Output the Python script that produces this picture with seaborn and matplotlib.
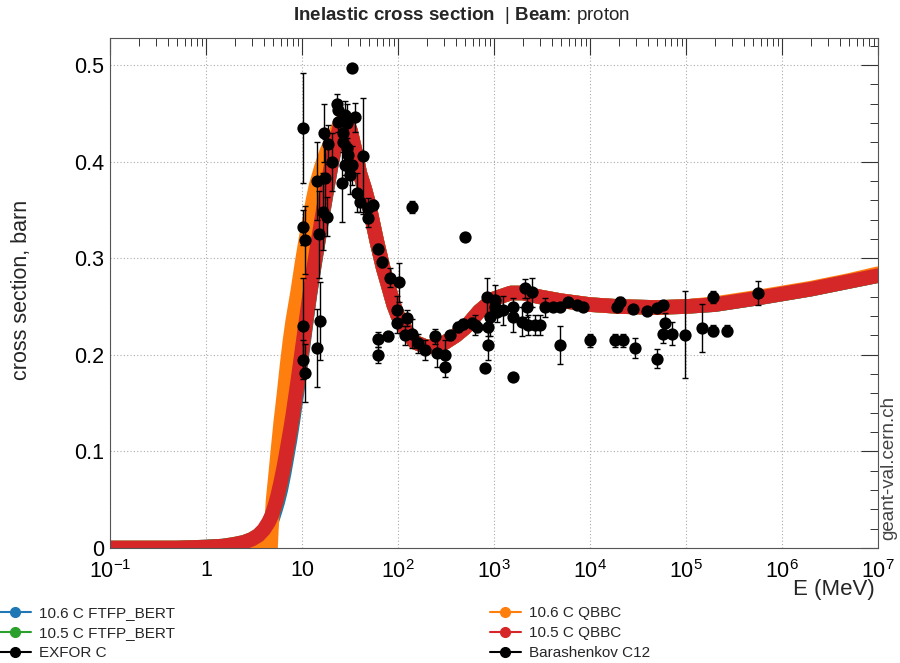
import numpy as np
import pandas as pd
import matplotlib
matplotlib.use("Agg")
import matplotlib.pyplot as plt
from matplotlib.lines import Line2D
from matplotlib.ticker import LogLocator, MultipleLocator, FixedLocator, FixedFormatter, NullFormatter
import seaborn as sns

# ---------------- data ----------------
E_model = [0.1, 0.2, 0.5, 1, 1.5, 2, 2.5, 3, 3.5, 4, 4.5, 4.7, 4.8, 5, 5.3, 5.6, 6, 6.5, 7, 7.5,
           8, 9, 10, 11, 12, 13, 14, 16, 18, 20, 22, 25, 28, 32, 36, 40, 45, 50, 60, 70,
           80, 90, 100, 120, 150, 200, 250, 300, 400, 500, 700, 1000, 1500, 2000, 3000, 5000,
           1e4, 2e4, 5e4, 1e5, 2e5, 5e5, 1e6, 2e6, 5e6, 1e7]

ftfp_106 = [0, 0, 0, 0.001, 0.002, 0.003, 0.005, 0.007, 0.010, 0.015, 0.022, 0.025, 0.027, 0.032, 0.040, 0.048, 0.060, 0.077, 0.095, 0.112,
            0.130, 0.165, 0.200, 0.232, 0.260, 0.283, 0.303, 0.338, 0.368, 0.394, 0.415, 0.437, 0.445, 0.432, 0.410, 0.388, 0.372, 0.355, 0.318, 0.290,
            0.270, 0.252, 0.240, 0.226, 0.213, 0.208, 0.209, 0.212, 0.220, 0.228, 0.245, 0.258, 0.264, 0.264, 0.260, 0.256,
            0.252, 0.250, 0.249, 0.250, 0.252, 0.258, 0.263, 0.268, 0.276, 0.282]

ftfp_105 = [0, 0, 0, 0.001, 0.002, 0.004, 0.006, 0.009, 0.013, 0.018, 0.026, 0.030, 0.032, 0.037, 0.045, 0.054, 0.067, 0.084, 0.102, 0.119,
            0.136, 0.171, 0.204, 0.234, 0.261, 0.284, 0.304, 0.339, 0.369, 0.395, 0.416, 0.438, 0.445, 0.432, 0.410, 0.388, 0.372, 0.355, 0.318, 0.290,
            0.270, 0.252, 0.240, 0.226, 0.213, 0.208, 0.209, 0.212, 0.220, 0.228, 0.245, 0.258, 0.264, 0.264, 0.260, 0.256,
            0.252, 0.250, 0.249, 0.250, 0.252, 0.258, 0.263, 0.268, 0.276, 0.282]

qbbc_106 = [0, 0, 0, 0, 0, 0, 0, 0, 0, 0, 0, 0, 0.020, 0.050, 0.075, 0.100, 0.130, 0.160, 0.190, 0.215,
            0.235, 0.265, 0.295, 0.320, 0.340, 0.360, 0.375, 0.395, 0.410, 0.420, 0.428, 0.440, 0.445, 0.432, 0.410, 0.388, 0.372, 0.355, 0.318, 0.290,
            0.270, 0.252, 0.240, 0.226, 0.213, 0.208, 0.209, 0.212, 0.220, 0.228, 0.245, 0.258, 0.264, 0.264, 0.260, 0.256,
            0.252, 0.250, 0.249, 0.250, 0.253, 0.259, 0.264, 0.269, 0.277, 0.284]

qbbc_105 = [0, 0, 0, 0.001, 0.002, 0.004, 0.006, 0.009, 0.013, 0.019, 0.027, 0.031, 0.033, 0.038, 0.046, 0.055, 0.068, 0.085, 0.103, 0.120,
            0.137, 0.172, 0.205, 0.235, 0.262, 0.285, 0.305, 0.340, 0.370, 0.395, 0.416, 0.438, 0.445, 0.432, 0.410, 0.388, 0.372, 0.355, 0.318, 0.290,
            0.270, 0.252, 0.240, 0.226, 0.213, 0.208, 0.209, 0.212, 0.220, 0.228, 0.245, 0.258, 0.264, 0.264, 0.260, 0.256,
            0.252, 0.250, 0.249, 0.250, 0.252, 0.258, 0.263, 0.268, 0.276, 0.282]

# EXFOR C (energy MeV, cross section barn, error barn)
exfor_E = [10.2, 10.2, 10.7, 10.2, 10.2, 10.7, 14.3, 15.4, 14.3, 15.0, 17.4, 16.6, 18.2, 16.9, 18.7, 20.5, 26.1,
           23.2, 23.7, 28.0, 29.4, 35.7, 43.2, 33.2, 31.6, 37.4, 40.2, 48.7, 54.9, 48.7, 61.9, 68.1,
           23.7, 26.7, 26.7, 29.4, 30.1, 28.0, 140, 82.5, 102, 97.6, 97.6, 124, 118, 140, 61.9, 61.9, 78.7,
           162, 191, 243, 255, 309, 309, 348, 422, 476, 590, 665, 846, 908, 866, 1024, 634, 866, 1024, 1074,
           1241, 1577, 1577, 1957, 2103, 2488, 2206, 2260, 2673, 3013, 3396, 4870, 1.0e4, 1.82e4, 2.21e4,
           2.05e4, 2.94e4, 4.99e4, 6.04e4, 5.75e4, 7.15e4, 9.77e4, 1.47e5, 1.91e5, 2.67e5, 1.91e5, 5.62e5]
exfor_xs = [0.435, 0.332, 0.319, 0.230, 0.195, 0.181, 0.207, 0.235, 0.380, 0.325, 0.383, 0.348, 0.343, 0.430, 0.418, 0.400, 0.378,
            0.460, 0.453, 0.448, 0.440, 0.446, 0.406, 0.396, 0.386, 0.368, 0.358, 0.352, 0.355, 0.342, 0.310, 0.296,
            0.441, 0.430, 0.420, 0.414, 0.407, 0.396, 0.353, 0.280, 0.275, 0.246, 0.233, 0.238, 0.220, 0.222, 0.216, 0.200, 0.219,
            0.212, 0.205, 0.219, 0.202, 0.200, 0.187, 0.220, 0.229, 0.232, 0.233, 0.229, 0.260, 0.239, 0.210, 0.249, 0.231, 0.229, 0.257, 0.244,
            0.246, 0.249, 0.239, 0.234, 0.269, 0.265, 0.249, 0.231, 0.231, 0.231, 0.249, 0.210, 0.215, 0.215, 0.215,
            0.255, 0.207, 0.196, 0.233, 0.222, 0.222, 0.221, 0.228, 0.225, 0.225, 0.260, 0.264]
exfor_err = [0.057, 0.018, 0.035, 0.050, 0.020, 0.030, 0.040, 0.040, 0.040, 0.045, 0.040, 0.040, 0.020, 0.030, 0.020, 0.030, 0.040,
             0.010, 0.010, 0.015, 0.020, 0.015, 0.060, 0.020, 0.020, 0.020, 0.010, 0.010, 0.005, 0.010, 0.005, 0.005,
             0.010, 0.010, 0.010, 0.010, 0.010, 0.010, 0.006, 0.010, 0.020, 0.015, 0.010, 0.008, 0.010, 0.015, 0.008, 0.008, 0.005,
             0.010, 0.010, 0.008, 0.015, 0.015, 0.010, 0.005, 0.005, 0.005, 0.005, 0.005, 0.020, 0.020, 0.015, 0.010, 0.010, 0.010, 0.015, 0.010,
             0.015, 0.010, 0.015, 0.015, 0.010, 0.015, 0.010, 0.010, 0.010, 0.010, 0.010, 0.020, 0.007, 0.007, 0.007,
             0.005, 0.010, 0.010, 0.010, 0.010, 0.012, 0.045, 0.025, 0.006, 0.006, 0.006, 0.012]

# Barashenkov C12
bar_E = [33.2, 499, 806, 1577, 4118, 4870, 5900, 7320, 8450, 1.91e4, 2.80e4, 3.92e4, 4.99e4, 5.75e4]
bar_xs = [0.497, 0.322, 0.186, 0.177, 0.249, 0.249, 0.255, 0.252, 0.249, 0.249, 0.247, 0.245, 0.248, 0.252]

x_ticks = [1e-1, 1, 10, 1e2, 1e3, 1e4, 1e5, 1e6, 1e7]
x_tick_labels = [r"$10^{-1}$", "1", "10", r"$10^{2}$", r"$10^{3}$", r"$10^{4}$", r"$10^{5}$", r"$10^{6}$", r"$10^{7}$"]
y_ticks = [0, 0.1, 0.2, 0.3, 0.4, 0.5]
y_tick_labels = ["0", "0.1", "0.2", "0.3", "0.4", "0.5"]

model_names = ["10.6 C FTFP_BERT", "10.5 C FTFP_BERT", "10.6 C QBBC", "10.5 C QBBC"]
model_colors = ["#1f77b4", "#2ca02c", "#ff7f0e", "#d62728"]

# ---------------- style ----------------
sns.set_theme(style="white")
plt.rcParams["font.family"] = ["Liberation Sans", "DejaVu Sans"]
plt.rcParams["mathtext.fontset"] = "custom"
plt.rcParams["mathtext.rm"] = "Liberation Sans"
plt.rcParams["mathtext.bf"] = "Liberation Sans:bold"
plt.rcParams["mathtext.it"] = "Liberation Sans:italic"
plt.rcParams["mathtext.default"] = "regular"

fig = plt.figure(figsize=(9, 6.63), dpi=100)
ax = fig.add_axes([110 / 900, 1 - 548 / 663, 768 / 900, 510 / 663])

models = pd.DataFrame({"E": E_model * 4,
                       "xs": ftfp_106 + ftfp_105 + qbbc_106 + qbbc_105,
                       "model": sum([[n] * len(E_model) for n in model_names], [])})

for name, col in zip(model_names, model_colors):
    sub = models[models["model"] == name]
    sns.lineplot(data=sub, x="E", y="xs", ax=ax, color=col, lw=10.5, estimator=None,
                 sort=False, solid_capstyle="round", solid_joinstyle="round", legend=False, zorder=2)

ax.errorbar(exfor_E, exfor_xs, yerr=exfor_err, fmt="none", ecolor="black", elinewidth=1.0,
            capsize=2, capthick=1.0, zorder=3)
exfor_df = pd.DataFrame({"E": exfor_E, "xs": exfor_xs})
bar_df = pd.DataFrame({"E": bar_E, "xs": bar_xs})
sns.scatterplot(data=exfor_df, x="E", y="xs", ax=ax, color="black", s=78, linewidth=0, zorder=4, legend=False)
sns.scatterplot(data=bar_df, x="E", y="xs", ax=ax, color="black", s=78, linewidth=0, zorder=4, legend=False)

ax.set_xscale("log")
ax.set_xlim(0.1, 1e7)
ax.set_ylim(0, 0.528)

ax.xaxis.set_major_locator(FixedLocator(x_ticks))
ax.xaxis.set_major_formatter(FixedFormatter(x_tick_labels))
ax.xaxis.set_minor_locator(LogLocator(base=10, subs=np.arange(2, 10), numticks=50))
ax.xaxis.set_minor_formatter(NullFormatter())
ax.yaxis.set_major_locator(FixedLocator(y_ticks))
ax.yaxis.set_major_formatter(FixedFormatter(y_tick_labels))
ax.yaxis.set_minor_locator(MultipleLocator(0.02))

ax.tick_params(which="both", direction="in", top=True, right=True, colors="#333333")
ax.tick_params(which="major", length=12, width=0.8, labelsize=15.5, labelcolor="black")
ax.tick_params(which="minor", length=6, width=0.7)
ax.tick_params(axis="x", which="major", pad=9)
ax.tick_params(axis="y", which="major", pad=4)

ax.grid(True, which="major", linestyle=(0, (1, 2)), color="#aaaaaa", lw=0.8)
for sp in ax.spines.values():
    sp.set_color("#555555")
    sp.set_linewidth(0.8)

ax.set_xlabel("")
ax.set_ylabel("")
fig.text(875 / 900, 1 - 590 / 663, "E (MeV)", fontsize=16, ha="right", va="center")
fig.text(22 / 900, 1 - 290 / 663, "cross section, barn", rotation=90, fontsize=15.5,
         ha="center", va="center")

fig.text(462 / 900, 1 - 15 / 663, r"$\bf{Inelastic\ cross\ section}$  | $\bf{Beam}$: proton",
         fontsize=13.5, ha="center", va="center")

fig.text(889 / 900, 1 - 540 / 663, "geant-val.cern.ch", rotation=90, fontsize=13.5,
         color="#444444", ha="center", va="bottom")

# legends
def handle(c):
    return Line2D([0], [0], color=c, lw=1.5, marker="o", markersize=7)

left_h = [handle(model_colors[0]), handle(model_colors[1]), handle("black")]
left_l = ["10.6 C FTFP_BERT", "10.5 C FTFP_BERT", "EXFOR C"]
right_h = [handle(model_colors[2]), handle(model_colors[3]), handle("black")]
right_l = ["10.6 C QBBC", "10.5 C QBBC", "Barashenkov C12"]

kw = dict(frameon=False, fontsize=11, handlelength=2.0, handletextpad=0.55,
          labelspacing=0.4, borderpad=0, borderaxespad=0, loc="upper left")
fig.legend(left_h, left_l, bbox_to_anchor=(0.0, 1 - 606 / 663), **kw)
fig.legend(right_h, right_l, bbox_to_anchor=(490 / 900, 1 - 606 / 663), **kw)

fig.savefig("out.png", dpi=100)
